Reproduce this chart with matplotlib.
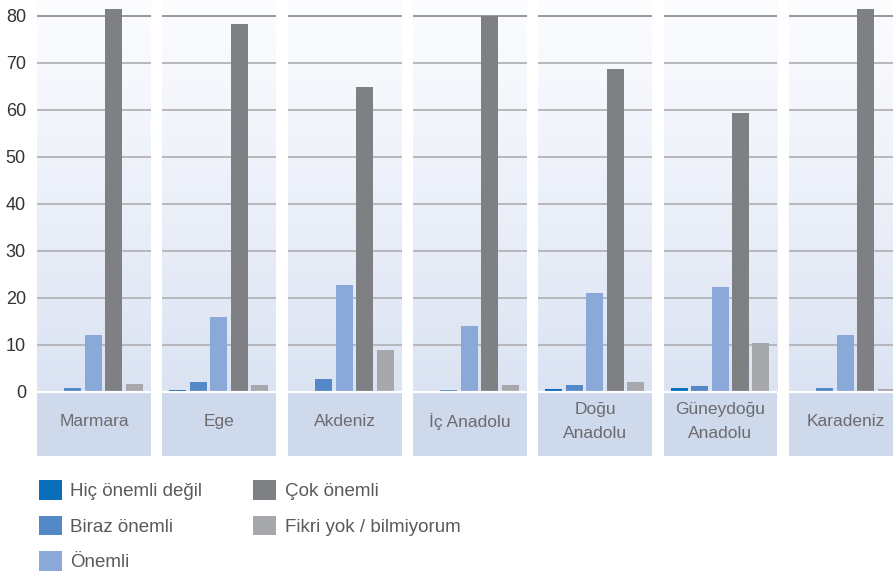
import matplotlib
matplotlib.use("Agg")
import matplotlib.pyplot as plt
from matplotlib.patches import Patch, Rectangle
import numpy as np

plt.rcParams['font.family'] = ['Liberation Sans', 'DejaVu Sans']

# ---------------------------------------------------------------- #
# Données
bolgeler = ["Marmara", "Ege", "Akdeniz", "İç Anadolu", "Doğu\nAnadolu",
            "Güneydoğu\nAnadolu", "Karadeniz"]
seriler = ["Hiç önemli değil", "Biraz önemli", "Önemli", "Çok önemli",
           "Fikri yok / bilmiyorum"]
hic_onemli_degil = [0.0, 0.4, 0.0, 0.0, 0.6, 0.85, 0.0]
biraz_onemli = [0.85, 2.1, 2.8, 0.5, 1.5, 1.3, 0.85]
onemli = [12.1, 16.0, 22.7, 14.0, 21.0, 22.4, 12.1]
cok_onemli = [81.3, 78.3, 64.9, 79.9, 68.6, 59.2, 81.3]
fikri_yok = [1.7, 1.5, 8.9, 1.5, 2.1, 10.4, 0.6]
yticks = [0, 10, 20, 30, 40, 50, 60, 70, 80]

renkler = ["#0a6fba", "#5488c7", "#8aa9d8", "#7f8084", "#a7a8ab"]

# ---------------------------------------------------------------- #
W, H = 893, 575
fig = plt.figure(figsize=(W / 100, H / 100), dpi=100)

degerler = np.array([hic_onemli_degil, biraz_onemli, onemli, cok_onemli, fikri_yok])
px = 4.705          # pixels per unit
y0 = 392            # pixel row of zero
alt = 456           # bottom of label box
ymin = -(alt - y0) / px
ymax = y0 / px

panel_w = 114
adim = 125.3
bar_w = 17
bar_adim = 20.5

# gradient background
grad = np.linspace(0, 1, 256).reshape(-1, 1)
ust = np.array([0.99, 0.992, 1.0])
alt_renk = np.array([0.86, 0.89, 0.95])
img = ust + (alt_renk - ust) * grad[..., None]

for k, ad in enumerate(bolgeler):
    left = 37 + k * adim
    ax = fig.add_axes([left / W, 1 - alt / H, panel_w / W, alt / H])
    ax.set_xlim(0, panel_w)
    ax.set_ylim(ymin, ymax)
    ax.imshow(img, extent=[0, panel_w, 0, ymax], aspect='auto', zorder=0,
              origin='upper')
    ax.add_patch(Rectangle((0, ymin), panel_w, -ymin, color="#cfd9ec",
                           zorder=0, lw=0))
    for t in yticks[1:]:
        ax.axhline(t, color="#8d8f92" if t == 80 else "#b1b3b7", lw=1.3, zorder=1)
    ax.axhline(0, color="white", lw=1.6, zorder=3)
    for i in range(len(seriler)):
        ax.bar(7 + i * bar_adim + bar_w / 2, degerler[i, k], width=bar_w,
               color=renkler[i], zorder=2)
    ax.text(panel_w / 2, ymin / 2 + 0.5, ad, ha='center', va='center',
            fontsize=12.5, color="#6b6b6f", linespacing=1.75)
    for s in ax.spines.values():
        s.set_visible(False)
    ax.set_xticks([])
    if k == 0:
        ax.set_yticks(yticks)
        ax.tick_params(axis='y', length=0, pad=8, labelsize=13,
                       labelcolor="#333333")
    else:
        ax.set_yticks([])

handles = [Patch(facecolor=c, edgecolor='none') for c in renkler]
fig.legend(handles, seriler, ncol=2, loc='upper left',
           bbox_to_anchor=(39 / W, 1 - 480 / H), frameon=False,
           fontsize=13.5, handlelength=1.23, handleheight=1.23,
           handletextpad=0.45, labelspacing=0.83, columnspacing=2.7,
           labelcolor="#5a5a5e", borderaxespad=0, borderpad=0)

fig.savefig("out.png", dpi=100)
